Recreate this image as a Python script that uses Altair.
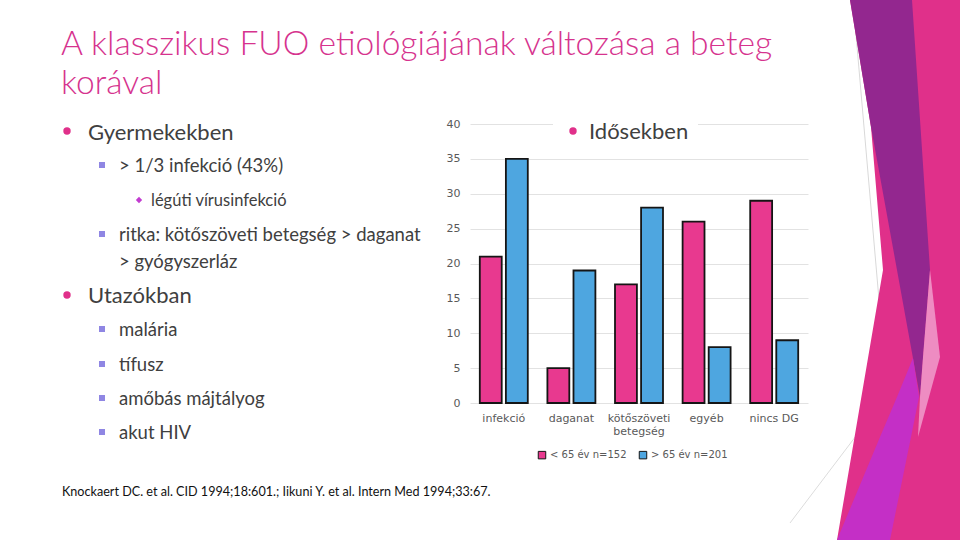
import altair as alt
import pandas as pd

# ---- data ----
categories = ["infekció", "daganat", "kötőszöveti betegség", "egyéb", "nincs DG"]
series = ["< 65 év n=152", "> 65 év n=201"]
under65 = [21, 5, 17, 26, 29]
over65 = [35, 19, 28, 8, 9]
y_ticks = [0, 5, 10, 15, 20, 25, 30, 35, 40]

rows = []
for c, a, b in zip(categories, under65, over65):
    rows.append({"cat": c, "group": series[0], "value": a})
    rows.append({"cat": c, "group": series[1], "value": b})
df = pd.DataFrame(rows)

PINK = "#e8398f"
BLUE = "#4ea6e0"
TITLE_PINK = "#d6338e"
TEXT = "#404040"
SQ = "#8f86e3"

# plot-area origin on the page
OX, OY = 470, 124
PW, PH = 338, 279

one = alt.Data(values=[{}])


def txt(s, x, y, size, color=TEXT, font="Lato", weight="normal"):
    return alt.Chart(one).mark_text(
        text=s, x=x - OX, y=y - OY, fontSize=size, color=color, font=font,
        fontWeight=weight, align="left", baseline="alphabetic"
    ).encode(opacity=alt.value(1))


def dot(x, y, shape, size, color):
    return alt.Chart(one).mark_point(
        shape=shape, filled=True, x=x - OX, y=y - OY, size=size, color=color, opacity=1
    ).encode(opacity=alt.value(1))


def box(x1, y1, x2, y2, color):
    return alt.Chart(one).mark_rect(color=color).encode(
        x=alt.value(x1 - OX), x2=alt.value(x2 - OX),
        y=alt.value(y1 - OY), y2=alt.value(y2 - OY)
    )


def line(x1, y1, x2, y2, color):
    return alt.Chart(one).mark_rule(color=color, strokeWidth=1).encode(
        x=alt.value(x1 - OX), x2=alt.value(x2 - OX),
        y=alt.value(y1 - OY), y2=alt.value(y2 - OY)
    )


# decorative band on the right edge of the slide (page pixels: y, left x, right x)
def band(points, color):
    vals = [{"py": p[0], "xl": p[1], "xr": p[2]} for p in points]
    xs = alt.Scale(domain=[0, 960], range=[-OX, 960 - OX], zero=False, nice=False)
    ys = alt.Scale(domain=[0, 540], range=[-OY, 540 - OY], zero=False, nice=False)
    return alt.Chart(alt.Data(values=vals)).mark_area(color=color, opacity=1).encode(
        y=alt.Y("py:Q", scale=ys, axis=None),
        x=alt.X("xl:Q", scale=xs, axis=None),
        x2=alt.X2("xr:Q"),
    )


deco = [
    line(853, 0, 879, 300, "#d9d9d9"),
    line(862, 428, 790, 523, "#dcdcdc"),
    band([(0, 850, 960), (127, 871, 960), (270, 883, 960), (540, 837, 960)], "#e0308a"),
    band([(0, 850, 912), (127, 871, 920.5), (270, 897, 930), (397, 920, 920)], "#93278f"),
    band([(270, 930, 930), (357, 923, 940), (397, 920, 929), (437, 918, 918)], "#ee8cc2"),
    band([(358, 913, 913), (397, 897, 919), (437, 880, 911), (540, 837, 890)], "#c42fc6"),
]

bars = alt.Chart(df).mark_bar(stroke="#151515", strokeWidth=1.8).encode(
    x=alt.X(
        "cat:N", sort=categories, title=None,
        scale=alt.Scale(paddingInner=0.29, paddingOuter=0.145),
        axis=alt.Axis(
            labelAngle=0, domain=False, ticks=False, labelFont="DejaVu Sans",
            labelFontSize=11, labelColor="#595959", labelPadding=9,
            labelExpr="datum.label == 'kötőszöveti betegség' ? ['kötőszöveti', 'betegség'] : datum.label",
        ),
    ),
    xOffset=alt.XOffset("group:N", sort=series, scale=alt.Scale(paddingInner=0.16)),
    y=alt.Y(
        "value:Q", title=None, scale=alt.Scale(domain=[0, 40], nice=False),
        axis=alt.Axis(
            values=y_ticks, domain=False, ticks=False, labelFont="DejaVu Sans",
            labelFontSize=11, labelColor="#595959", labelPadding=10,
            grid=True, gridColor="#e2e2e2", gridWidth=1,
        ),
    ),
    color=alt.Color(
        "group:N", sort=series,
        scale=alt.Scale(domain=series, range=[PINK, BLUE]),
        legend=alt.Legend(
            title=None, orient="none", direction="horizontal",
            legendX=67, legendY=326, symbolType="square", symbolSize=56,
            symbolStrokeColor="#151515", symbolStrokeWidth=1,
            labelFont="DejaVu Sans", labelFontSize=10, labelColor="#595959",
            columnPadding=10, labelOffset=3,
        ),
    ),
)

layers = [bars] + deco + [
    # white patch behind the chart heading
    box(553, 112, 698, 150, "white"),
    # chart heading
    dot(573, 131, "circle", 55, "#e0308a"),
    txt("Idősekben", 589, 139, 22),
    # slide title
    txt("A klasszikus FUO etiológiájának változása a beteg", 61, 55, 33.6, TITLE_PINK, weight=300),
    txt("korával", 61, 94, 33.6, TITLE_PINK, weight=300),
    # bullets
    dot(67, 131, "circle", 55, "#e0308a"),
    txt("Gyermekekben", 88, 140, 22),
    dot(102, 165, "square", 36, SQ),
    txt("> 1/3 infekció (43%)", 119, 172, 18.5),
    dot(139, 200, "diamond", 40, "#c23bd0"),
    txt("légúti vírusinfekció", 151, 206, 16.5),
    dot(102, 234, "square", 36, SQ),
    txt("ritka: kötőszöveti betegség > daganat", 119, 241, 18.5),
    txt("> gyógyszerláz", 119, 268, 18.5),
    dot(67, 295, "circle", 55, "#e0308a"),
    txt("Utazókban", 88, 303, 22),
    dot(102, 329, "square", 36, SQ),
    txt("malária", 119, 336, 18.5),
    dot(102, 364, "square", 36, SQ),
    txt("tífusz", 119, 371, 18.5),
    dot(102, 398, "square", 36, SQ),
    txt("amőbás májtályog", 119, 405, 18.5),
    dot(102, 432, "square", 36, SQ),
    txt("akut HIV", 119, 439, 18.5),
    # reference
    txt("Knockaert DC. et al. CID 1994;18:601.; Iikuni Y. et al. Intern Med 1994;33:67.",
        62, 496, 12.6, "#111111"),
]

chart = alt.layer(*layers).resolve_scale(
    x="independent", y="independent"
).properties(
    width=PW, height=PH,
    autosize=alt.AutoSizeParams(type="none"),
    padding={"left": OX, "top": OY, "right": 960 - OX - PW, "bottom": 540 - OY - PH},
    background="white",
).configure_view(stroke=None)

chart.save("out.html", embed_options={"renderer": "svg", "actions": False})
